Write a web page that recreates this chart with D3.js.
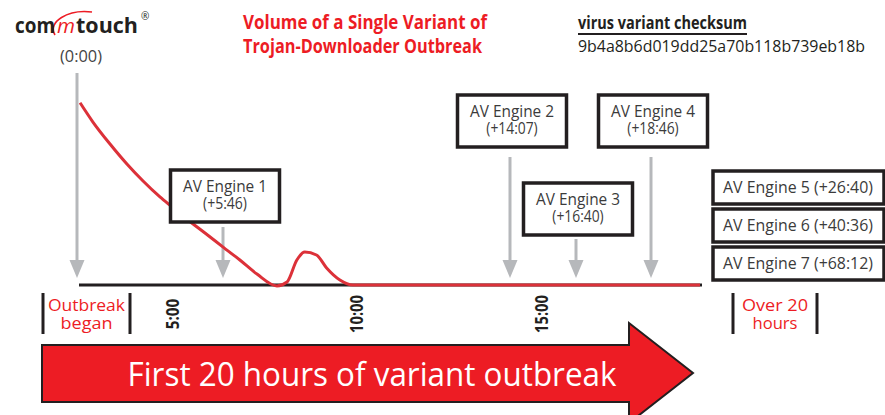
<!DOCTYPE html>
<html>
<head>
<meta charset="utf-8">
<script src="https://cdn.jsdelivr.net/npm/d3@7"></script>
<style>
  body { margin: 0; background: #fff; }
  svg { display: block; }
  text { font-family: "Open Sans", "Noto Sans", sans-serif; }
</style>
</head>
<body>
<svg id="chart" width="885" height="415"></svg>
<script>
// ---- data ----
const volumeHours  = [0.16, 0.83, 1.72, 2.60, 3.44, 4.32, 4.95, 5.21, 5.49, 5.77, 6.30, 6.84, 7.47, 7.79, 8.10, 8.35, 8.72, 9.04, 9.46, 9.87, 20];
const volumeValues = [98.5, 88.1, 76.2, 65.4, 56.2, 47.6, 42.2, 35.7, 28.1, 20.5, 13.5, 5.9, -0.5, 1.6, 13.5, 17.8, 16.2, 9.2, 2.7, 0, 0];
const tickHours  = [5, 10, 15];
const tickLabels = ["5:00", "10:00", "15:00"];
const engineNames  = ["AV Engine 1", "AV Engine 2", "AV Engine 3", "AV Engine 4", "AV Engine 5", "AV Engine 6", "AV Engine 7"];
const engineDelays = ["+5:46", "+14:07", "+16:40", "+18:46", "+26:40", "+40:36", "+68:12"];
const checksum = "9b4a8b6d019dd25a70b118b739eb18b";

// ---- layout ----
const RED = "#ed1c24", LINE_RED = "#dc3139", INK = "#231f20", TXT = "#3b3b3b", GREY = "#b6b8bb";
const boxTop   = [170, 95, 183, 95];      // callout boxes for engines 1-4
const arrowTop = [227, 157, 239, 157];
const lateTop  = [171, 209, 247];         // engines 5-7 listed on the right

const toHours = s => { const [h, m] = s.slice(1).split(":"); return +h + m / 60; };
const engineHours = engineDelays.map(toHours);
const early = engineHours.slice(0, 4);

// the drawing is not to scale, so the time axis is piecewise
const x = d3.scaleLinear()
  .domain([0, 5, early[0], 10, early[1], 15, early[2], early[3], 20])
  .range([77, 173, 223, 357, 510, 542, 576, 651, 700]);
const y = d3.scaleLinear().domain([0, 100]).range([285, 100]);

const svg = d3.select("#chart");
svg.append("rect").attr("width", 885).attr("height", 415).attr("fill", "#fff");

function label(g, str, px, py, o) {
  const t = g.append("text").attr("x", px).attr("y", py).text(str)
    .attr("font-size", o.size).attr("fill", o.color || TXT)
    .attr("font-weight", o.weight || 400)
    .attr("text-anchor", o.anchor || "start");
  if (o.width) t.attr("textLength", o.width).attr("lengthAdjust", "spacingAndGlyphs");
  return t;
}

// ---- logo ----
const logo = svg.append("g");
logo.append("path").attr("d", "M55,35 C47,22 68,9 92,12")
  .attr("fill", "none").attr("stroke", RED).attr("stroke-width", 1.6);
label(logo, "com", 15, 33, { size: 22, weight: 700, color: INK, width: 40 });
label(logo, "m", 57, 33, { size: 20, color: RED, width: 18 }).attr("font-style", "italic")
  .attr("font-family", "DejaVu Serif, serif");
label(logo, "touch", 76, 33, { size: 22, weight: 700, color: INK, width: 62 });
label(logo, "®", 141, 20, { size: 10, color: INK });

// ---- titles ----
label(svg, "Volume of a Single Variant of", 243, 29, { size: 19, weight: 700, color: RED, width: 244 });
label(svg, "Trojan-Downloader Outbreak", 243, 53, { size: 19, weight: 700, color: RED, width: 239 });
label(svg, "virus variant checksum", 578, 29, { size: 17, weight: 700, color: INK, width: 169 });
svg.append("line").attr("x1", 578).attr("x2", 747).attr("y1", 34).attr("y2", 34)
  .attr("stroke", INK).attr("stroke-width", 2);
label(svg, checksum, 578, 52, { size: 17, color: INK, width: 287 });
label(svg, "(0:00)", x(0) + 4, 62, { size: 17, color: "#444", anchor: "middle", width: 42 });

// ---- arrows ----
function greyArrow(px, top) {
  svg.append("line").attr("x1", px).attr("x2", px).attr("y1", top).attr("y2", 262)
    .attr("stroke", GREY).attr("stroke-width", 3);
  svg.append("path").attr("d", `M${px - 7.5},260 L${px + 7.5},260 L${px},278 Z`).attr("fill", GREY);
}
greyArrow(x(0), 73);
early.forEach((h, i) => greyArrow(x(h), arrowTop[i]));

// ---- baseline and volume curve ----
svg.append("line").attr("x1", x(0) + 2).attr("x2", x(20) + 2).attr("y1", y(0)).attr("y2", y(0))
  .attr("stroke", INK).attr("stroke-width", 3);
const line = d3.line().x(d => x(d[0])).y(d => y(d[1])).curve(d3.curveMonotoneX);
svg.append("path").datum(volumeHours.map((h, i) => [h, volumeValues[i]]))
  .attr("d", line).attr("fill", "none").attr("stroke", LINE_RED).attr("stroke-width", 3);

// ---- engine callouts ----
early.forEach((h, i) => {
  const cx = x(h) + 2, top = boxTop[i];
  svg.append("rect").attr("x", cx - 54.5).attr("y", top).attr("width", 109).attr("height", 52)
    .attr("fill", "#fff").attr("stroke", INK).attr("stroke-width", 3.5);
  label(svg, engineNames[i], cx, top + 22, { size: 16, anchor: "middle", width: 84 });
  label(svg, `(${engineDelays[i]})`, cx, top + 39, { size: 16, anchor: "middle", width: engineDelays[i].length * 7.4 + 7 });
});
lateTop.forEach((top, j) => {
  const i = j + 4;
  svg.append("rect").attr("x", 713).attr("y", top).attr("width", 171).attr("height", 33)
    .attr("fill", "#fff").attr("stroke", INK).attr("stroke-width", 3.5);
  label(svg, `${engineNames[i]} (${engineDelays[i]})`, 723, top + 22, { size: 17, width: 150 });
});

// ---- time labels ----
tickHours.forEach((h, i) => {
  svg.append("text").attr("transform", `translate(${x(h)},314) rotate(-90)`)
    .attr("text-anchor", "middle").attr("dy", "0.36em")
    .attr("font-size", 17).attr("font-weight", 700).attr("fill", INK)
    .attr("textLength", tickLabels[i].length * 7.6).attr("lengthAdjust", "spacingAndGlyphs")
    .text(tickLabels[i]);
});

function bracket(x1, x2, l1, l2, w1, w2) {
  [x1, x2].forEach(bx => svg.append("line").attr("x1", bx).attr("x2", bx).attr("y1", 293).attr("y2", 334)
    .attr("stroke", INK).attr("stroke-width", 3));
  const c = (x1 + x2) / 2;
  label(svg, l1, c, 311, { size: 17, color: RED, anchor: "middle", width: w1 });
  label(svg, l2, c, 329, { size: 17, color: RED, anchor: "middle", width: w2 });
}
bracket(43, 130, "Outbreak", "began", 77, 52);
bracket(733, 817, "Over 20", "hours", 66, 45);

// ---- big arrow ----
svg.append("path")
  .attr("d", "M42,345 L629,345 L629,323 L693,373 L629,423 L629,402 L42,402 Z")
  .attr("fill", RED).attr("stroke", INK).attr("stroke-width", 2);
label(svg, "First 20 hours of variant outbreak", 372, 386, { size: 32, color: "#fff", anchor: "middle", width: 489 });
</script>
</body>
</html>
